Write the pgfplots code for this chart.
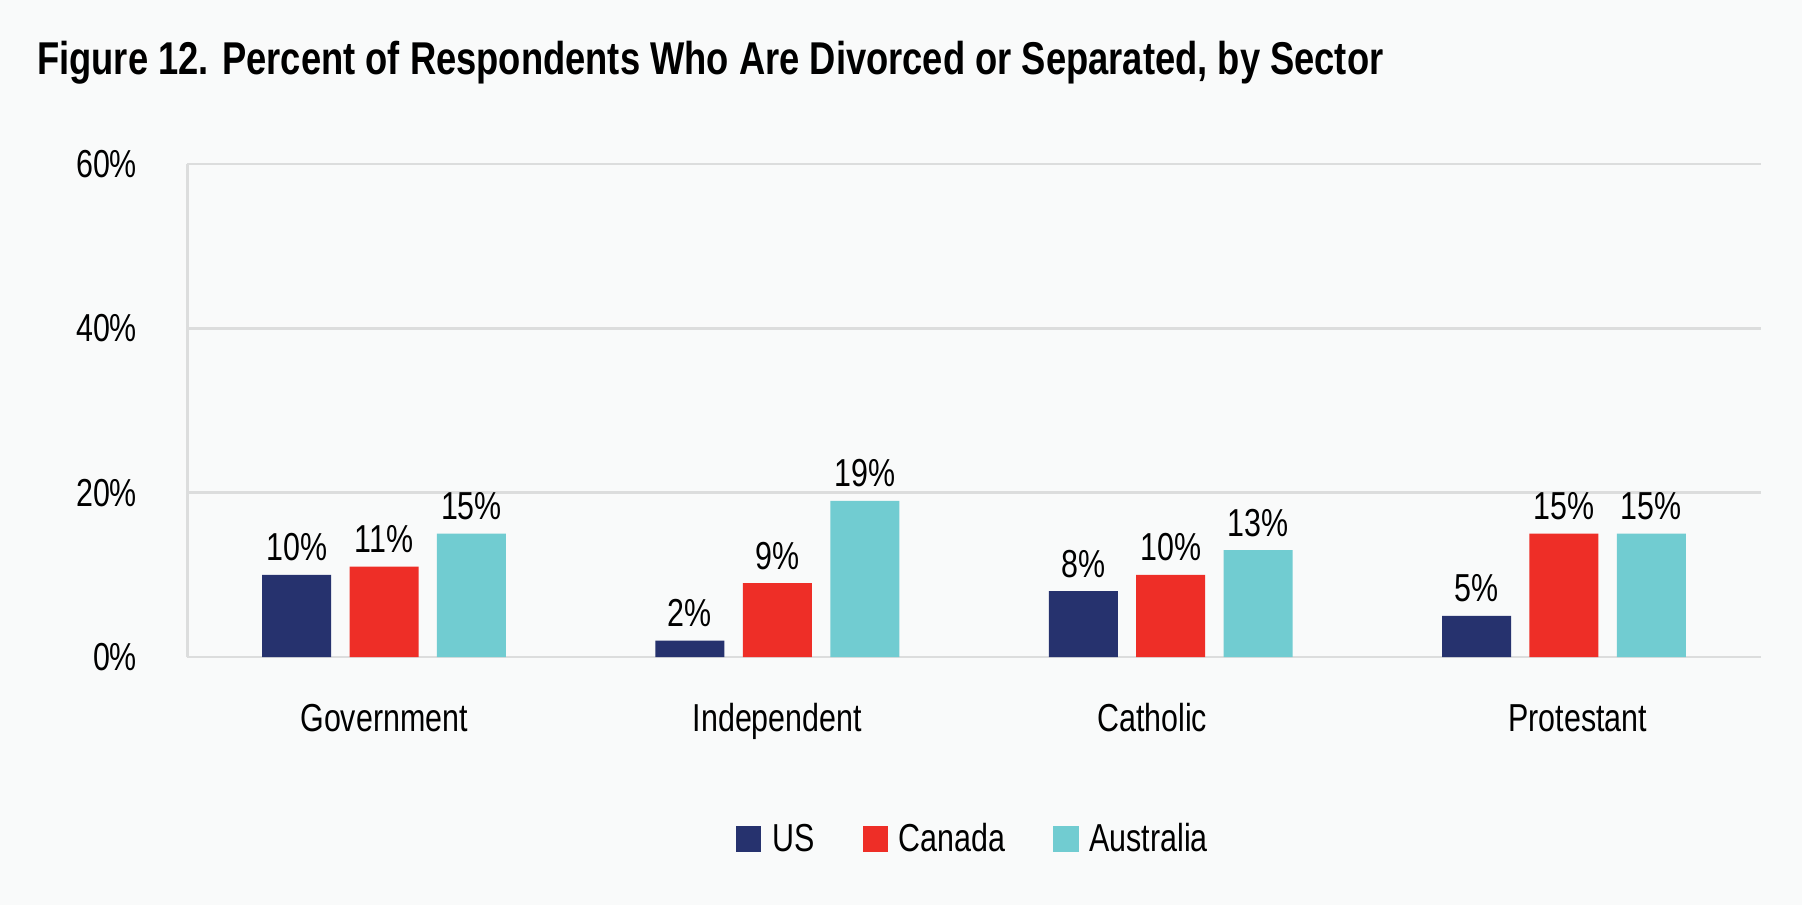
\documentclass[border=0pt]{standalone}
\usepackage{fontspec}
\setmainfont{Liberation Sans}[FakeStretch=0.78]
\newfontfamily\titlefont{Liberation Sans Bold}[FakeStretch=0.79]
\usepackage{pgfplots}
\pgfplotsset{compat=1.18}
\definecolor{bg}{RGB}{249,250,250}
\definecolor{gridgray}{RGB}{220,221,221}
\definecolor{usblue}{RGB}{38,50,110}
\definecolor{cared}{RGB}{238,46,39}
\definecolor{auteal}{RGB}{113,204,209}
\begin{document}
\begin{tikzpicture}
\fill[bg] (0,0) rectangle (901pt,452.5pt);
\node[anchor=base west, inner sep=0pt, font=\fontsize{23}{27}\selectfont\titlefont] at (18.4pt,415pt) {Figure 12. Percent of Respondents Who Are Divorced or Separated, by Sector};
\begin{axis}[
  at={(93.7pt,124pt)}, anchor=south west,
  scale only axis, width=786.6pt, height=246.6pt,
  /pgf/number format/assume math mode=true,
  font=\fontsize{19.5}{23}\selectfont,
  xmin=-0.5, xmax=3.5, ymin=0, ymax=60,
  xtick={0,1,2,3},
  xticklabels={Government,Independent,\hspace*{-18.4pt}Catholic,Protestant\hspace*{-13.8pt}},
  ytick={0,20,40,60},
  yticklabels={0\%,20\%,40\%,60\%},
  major tick length=0pt,
  axis x line*=bottom, axis y line*=left,
  axis line style={draw=gridgray, line width=1.3pt},
  ymajorgrids, grid style={draw=gridgray, line width=1.3pt},
  xticklabel style={anchor=base, inner sep=0pt, yshift=-37pt},
  yticklabel style={anchor=east, inner sep=0pt, xshift=-25pt},
  ybar, bar width=34.5pt,
  every axis plot/.append style={draw=none},
  nodes near coords={\pgfmathprintnumber{\pgfplotspointmeta}\%},
  every node near coord/.append style={anchor=base, inner sep=0pt, yshift=7pt, text=black},
  legend style={at={(0.5,-0.369)}, anchor=center, draw=none, fill=none,
    legend columns=-1,
    /tikz/every odd column/.append style={column sep=3.5pt},
    /tikz/every even column/.append style={column sep=22pt}},
  legend cell align=left,
  legend image code/.code={\fill[#1] (0pt,-6.3pt) rectangle (12.6pt,6.3pt);},
]
\addplot[fill=usblue, bar shift=-43.7pt] coordinates {(0,10) (1,2) (2,8) (3,5)};
\addplot[fill=cared, bar shift=0pt] coordinates {(0,11) (1,9) (2,10) (3,15)};
\addplot[fill=auteal, bar shift=43.7pt] coordinates {(0,15) (1,19) (2,13) (3,15)};
\legend{US,Canada,Australia}
\end{axis}
\end{tikzpicture}
\end{document}
